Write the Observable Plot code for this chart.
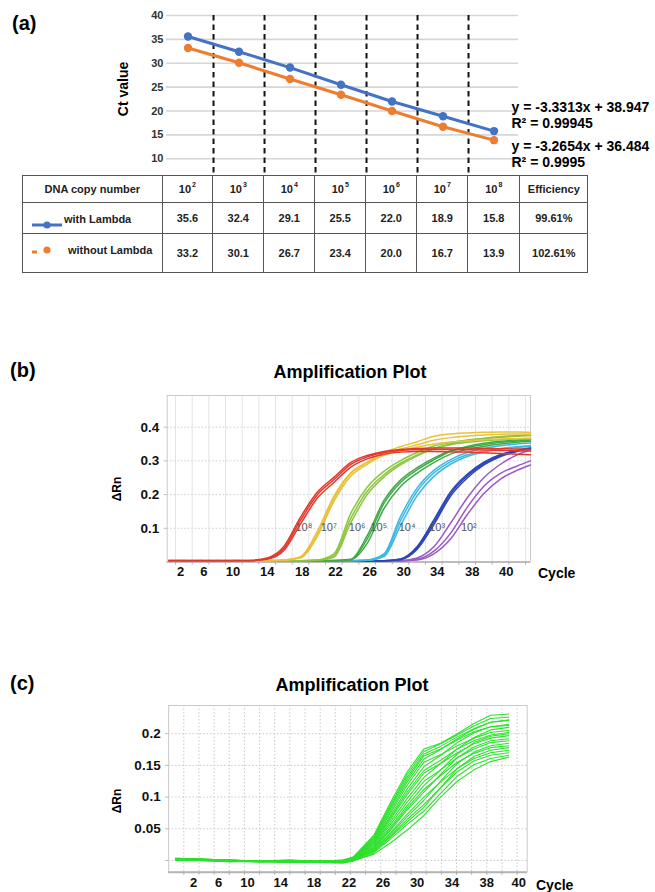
<!DOCTYPE html>
<html><head><meta charset="utf-8">
<script src="https://cdn.jsdelivr.net/npm/d3@7"></script>
<script src="https://cdn.jsdelivr.net/npm/@observablehq/plot@0.6"></script>
<style>
body{margin:0;background:#fff;}
#root{position:relative;width:655px;height:892px;overflow:hidden;font-family:Arial,"Liberation Sans",Helvetica,sans-serif;color:#000;}
table.ct{border-collapse:collapse;table-layout:fixed;font-weight:bold;font-size:11px;color:#222;}
table.ct td{border:1.5px solid #555;text-align:center;padding:0;vertical-align:middle;}
table.ct sup{font-size:7px;vertical-align:top;position:relative;top:-2px;margin-left:1px;}
</style></head><body><div id="root"></div>
<script>
// ---------- Panel (a) data ----------
const copyExponents = [2, 3, 4, 5, 6, 7, 8];
const seriesNames = ["with Lambda", "without Lambda"];
const ctWithLambda = [35.6, 32.4, 29.1, 25.5, 22.0, 18.9, 15.8];
const ctWithoutLambda = [33.2, 30.1, 26.7, 23.4, 20.0, 16.7, 13.9];
const efficiencies = ["99.61%", "102.61%"];
const equations = ["y = -3.3313x + 38.947", "R² = 0.99945", "y = -3.2654x + 36.484", "R² = 0.9995"];
const ctTicks = [10, 15, 20, 25, 30, 35, 40];
const seriesColors = ["#4472c4", "#ed7d31"];

// ---------- Panel (b) data ----------
const cyclesB = [0.2,2,4,6,8,10,12,14,16,18,20,22,24,26,28,30,32,34,36,38,40,42,43.6];
const rn1e8 = [
 [.004,.005,.004,.005,.004,.005,.012,.046,.133,.207,.251,.295,.316,.328,.334,.337,.338,.338,.338,.337,.336,.335,.334],
 [.005,.004,.004,.004,.005,.004,.010,.040,.124,.199,.244,.289,.312,.325,.331,.333,.334,.334,.333,.332,.331,.330,.329],
 [.004,.004,.005,.004,.004,.004,.008,.034,.113,.189,.236,.281,.306,.320,.326,.328,.328,.327,.326,.324,.322,.320,.318]];
const rn1e7 = [
 [.004,.004,.004,.003,.004,.004,.004,.006,.014,.082,.188,.262,.296,.325,.342,.357,.373,.380,.383,.385,.386,.386,.385],
 [.003,.004,.004,.004,.003,.004,.004,.005,.012,.075,.180,.254,.290,.318,.335,.348,.361,.369,.374,.377,.379,.380,.380],
 [.004,.003,.004,.004,.004,.003,.004,.006,.016,.090,.195,.264,.295,.317,.331,.341,.350,.356,.360,.363,.365,.366,.366]];
const rn1e6 = [
 [.004,.004,.003,.004,.004,.004,.004,.004,.004,.006,.024,.143,.222,.269,.301,.325,.344,.354,.362,.366,.370,.373,.375],
 [.003,.004,.004,.004,.003,.004,.004,.004,.004,.005,.018,.128,.210,.259,.293,.318,.337,.348,.355,.360,.363,.366,.367],
 [.004,.004,.004,.003,.004,.004,.003,.004,.004,.005,.014,.115,.200,.252,.288,.315,.336,.350,.360,.367,.372,.375,.377]];
const rn1e5 = [
 [.004,.003,.004,.004,.004,.003,.004,.004,.004,.004,.004,.007,.068,.173,.236,.274,.303,.328,.340,.348,.355,.359,.362],
 [.003,.004,.004,.003,.004,.004,.004,.003,.004,.004,.005,.008,.078,.182,.243,.280,.308,.330,.343,.352,.358,.362,.364],
 [.004,.004,.003,.004,.004,.004,.003,.004,.004,.004,.004,.006,.055,.158,.224,.264,.295,.320,.334,.343,.350,.355,.358]];
const rn1e4 = [
 [.004,.004,.004,.004,.003,.004,.004,.004,.004,.004,.004,.004,.005,.020,.123,.210,.264,.297,.318,.329,.337,.342,.345],
 [.003,.004,.004,.004,.004,.004,.003,.004,.004,.004,.004,.004,.006,.024,.135,.220,.272,.304,.325,.337,.345,.350,.353],
 [.004,.003,.004,.004,.004,.003,.004,.004,.004,.003,.004,.004,.005,.016,.108,.197,.254,.290,.313,.326,.335,.340,.343]];
const rn1e3 = [
 [.004,.004,.003,.004,.004,.004,.004,.004,.003,.004,.004,.004,.004,.004,.008,.042,.118,.202,.255,.292,.316,.330,.337],
 [.003,.004,.004,.004,.004,.003,.004,.004,.004,.004,.004,.003,.004,.004,.009,.046,.125,.208,.260,.296,.319,.332,.339],
 [.004,.004,.004,.003,.004,.004,.004,.003,.004,.004,.003,.004,.004,.004,.007,.038,.111,.195,.249,.288,.313,.328,.336]];
const rn1e2 = [
 [.004,.004,.004,.004,.003,.004,.004,.004,.004,.004,.004,.004,.004,.004,.004,.012,.045,.115,.190,.250,.290,.318,.333],
 [.003,.004,.004,.004,.004,.004,.003,.004,.004,.004,.004,.004,.003,.004,.004,.008,.032,.085,.162,.225,.263,.285,.300],
 [.004,.004,.003,.004,.004,.004,.004,.004,.003,.004,.004,.004,.004,.004,.004,.006,.024,.068,.140,.203,.246,.272,.288]];
const groupNamesB = ["10²","10³","10⁴","10⁵","10⁶","10⁷","10⁸"];
const groupColorsB = ["#9a58c6","#2b45b5","#3cb8e2","#3faa4a","#8cc63e","#e8c23a","#e4372c"];
const labelCyclesB = [36.2, 32.4, 28.8, 25.4, 22.8, 19.4, 16.4];
const labelLevelB = 0.102;
const rnTicksB = [0.1, 0.2, 0.3, 0.4];
const tickLabelsB = ["2","6","10","14","18","22","26","30","34","38","40"];
const tickPosB = [1.6, 4.4, 7.9, 12.0, 16.2, 20.2, 24.3, 28.4, 32.4, 36.6, 40.7];
const gridCyclesB = d3.range(1, 44, 2);

// ---------- Panel (c) data ----------
const cyclesC = [0.9,4,8,12,16,20,23,24.4,27.1,29.3,31.5,33.7,35.9,38.1,40.3,42.5,44.9];
const rnC = [
 [.003,.002,.001,-.001,.000,-.001,.000,.006,.040,.092,.140,.176,.185,.200,.216,.229,.231],
 [.002,.003,.000,.000,-.001,-.002,.001,.005,.038,.088,.136,.172,.184,.198,.212,.224,.226],
 [.001,.002,.001,-.002,-.001,.000,-.001,.005,.036,.085,.132,.168,.180,.195,.208,.218,.221],
 [.004,.002,-.001,.000,-.002,-.001,.000,.004,.035,.082,.128,.165,.176,.190,.203,.211,.213],
 [.002,.001,.000,-.001,.001,-.002,-.002,.004,.033,.078,.124,.160,.175,.192,.207,.218,.222],
 [.000,.002,.001,-.002,-.002,.000,-.003,.003,.031,.075,.119,.155,.167,.181,.193,.202,.205],
 [.003,.001,-.001,.000,-.001,-.003,-.001,.004,.030,.071,.113,.148,.166,.186,.201,.211,.215],
 [.001,.000,.000,-.001,-.002,-.001,-.002,.003,.028,.068,.108,.142,.158,.176,.189,.198,.202],
 [.002,.002,.000,-.002,.000,-.002,-.003,.002,.026,.065,.104,.138,.153,.170,.184,.193,.197],
 [.000,.001,-.001,-.001,-.002,-.001,-.001,.003,.025,.061,.098,.131,.153,.176,.194,.206,.210],
 [.003,.002,.000,.000,-.001,-.002,-.002,.002,.023,.057,.092,.125,.143,.162,.176,.186,.189],
 [.001,.000,-.002,-.001,-.002,-.003,-.002,.002,.021,.053,.087,.118,.143,.168,.186,.196,.200],
 [.002,.001,.000,-.002,-.001,-.001,-.003,.001,.020,.050,.083,.112,.134,.155,.169,.178,.181],
 [.000,.002,-.001,-.001,-.003,-.002,-.001,.002,.019,.048,.080,.108,.136,.162,.179,.189,.192],
 [.003,.001,.000,-.002,-.002,-.003,-.004,.000,.017,.044,.073,.100,.124,.145,.161,.170,.174],
 [.001,.000,-.001,.000,-.001,-.002,-.002,.001,.016,.042,.069,.095,.125,.153,.171,.181,.185],
 [.002,.002,-.001,-.002,-.002,-.001,-.003,.000,.015,.039,.065,.088,.115,.140,.157,.166,.170],
 [.000,.001,.000,-.001,-.003,-.002,-.002,.001,.014,.037,.061,.084,.115,.145,.164,.174,.178],
 [.002,.000,-.002,-.002,-.001,-.003,-.004,-.001,.012,.034,.057,.078,.106,.133,.151,.161,.166],
 [.001,.002,.000,-.001,-.002,-.002,-.003,.000,.010,.028,.048,.071,.100,.125,.143,.156,.163]];
const rnTicksC = [0, 0.05, 0.1, 0.15, 0.2];
const tickLabelsC = ["2","6","10","14","18","22","26","30","34","38","40"];
const tickPosC = [3.3, 6.6, 10.4, 14.8, 19.2, 23.8, 28.3, 32.8, 37.4, 42.0, 46.2];
const gridCyclesC = d3.range(2, 47, 2);

// ---------- helpers ----------
const FONT = 'Arial, "Liberation Sans", Helvetica, sans-serif';
const root = document.getElementById("root");
function place(node, left, top) {
  node.style.position = "absolute"; node.style.left = left + "px"; node.style.top = top + "px";
  root.appendChild(node); return node;
}
function addText(text, left, top, css) {
  const d = document.createElement("div"); d.textContent = text;
  d.style.cssText = "white-space:nowrap;" + css; return place(d, left, top);
}
function addRotated(text, cx, cy, css) {
  const d = document.createElement("div"); d.textContent = text;
  d.style.cssText = "white-space:nowrap;width:100px;text-align:center;line-height:16px;transform:rotate(-90deg);" + css;
  return place(d, cx - 50, cy - 8);
}

// ---------- Panel (a) chart ----------
const ptsA = [];
seriesNames.forEach((s, si) => {
  const vals = si === 0 ? ctWithLambda : ctWithoutLambda;
  copyExponents.forEach((e, i) => ptsA.push({exp: e, ct: vals[i], series: s}));
});
const boundariesA = copyExponents.slice(0, -1).map(e => e + 0.5);
const chartA = Plot.plot({
  width: 655, height: 176, marginLeft: 166, marginRight: 137, marginTop: 15, marginBottom: 1,
  style: {fontFamily: FONT, background: "transparent", overflow: "visible"},
  x: {domain: [1.578, 8.48], axis: null},
  y: {domain: [6.5, 40], axis: null},
  color: {domain: seriesNames, range: seriesColors},
  marks: [
    Plot.gridY(ctTicks, {stroke: "#d6d6d6", strokeOpacity: 1, strokeWidth: 1.6}),
    Plot.axisY(ctTicks, {label: null, tickSize: 0, tickPadding: 3, fontSize: 11, fontWeight: "bold", fill: "#333"}),
    Plot.ruleX(boundariesA, {stroke: "#111", strokeWidth: 2, strokeDasharray: "5.5,4"}),
    Plot.line(ptsA, {x: "exp", y: "ct", z: "series", stroke: "series", strokeWidth: 3}),
    Plot.dot(ptsA, {x: "exp", y: "ct", fill: "series", r: 4.2})
  ]
});
place(chartA, 0, 0);

// ---------- Panel (a) table ----------
const colWidths = [139.6, 50.7, 51, 51, 51, 51, 51, 51.9, 68.3];
const rowHeights = [27, 30.5, 39];
const tbl = document.createElement("table");
tbl.className = "ct";
tbl.style.width = d3.sum(colWidths) + "px";
const cg = document.createElement("colgroup");
colWidths.forEach(w => { const c = document.createElement("col"); c.style.width = w + "px"; cg.appendChild(c); });
tbl.appendChild(cg);
function row(h) { const tr = document.createElement("tr"); tr.style.height = h + "px"; tbl.appendChild(tr); return tr; }
function cell(tr, html) { const td = document.createElement("td"); td.innerHTML = html; tr.appendChild(td); return td; }
const hr = row(rowHeights[0]);
cell(hr, "DNA copy number");
copyExponents.forEach(e => cell(hr, "10<sup>" + e + "</sup>"));
cell(hr, "Efficiency");
[ctWithLambda, ctWithoutLambda].forEach((vals, si) => {
  const tr = row(rowHeights[si + 1]);
  const first = cell(tr, "");
  first.style.position = "relative";
  const color = seriesColors[si];
  let icon, labelLeft, labelTop;
  if (si === 0) {
    icon = `<svg width="40" height="12" style="position:absolute;left:9px;top:16px"><line x1="0" y1="6" x2="30" y2="6" stroke="${color}" stroke-width="3"/><circle cx="15" cy="6" r="3.6" fill="${color}"/></svg>`;
    labelLeft = 41; labelTop = 9;
  } else {
    icon = `<svg width="40" height="12" style="position:absolute;left:9px;top:10px"><line x1="0" y1="8" x2="5" y2="8" stroke="${color}" stroke-width="3"/><circle cx="15" cy="6" r="3.6" fill="${color}"/></svg>`;
    labelLeft = 45; labelTop = 9;
  }
  first.innerHTML = icon + `<span style="position:absolute;left:${labelLeft}px;top:${labelTop}px;line-height:14px;white-space:nowrap">${seriesNames[si]}</span>`;
  vals.forEach(v => cell(tr, v.toFixed(1)));
  cell(tr, efficiencies[si]);
});
place(tbl, 22, 175);

// annotations (a)
addText("(a)", 12, 12, "font-size:20px;font-weight:bold;line-height:22px;");
addRotated("Ct value", 122.5, 89, "font-size:14px;font-weight:bold;");
const eqTops = [99, 115, 138, 154];
equations.forEach((t, i) => addText(t, 511.5, eqTops[i], "font-size:14px;font-weight:bold;line-height:16px;"));

// ---------- Panel (b) chart ----------
const groupsB = [rn1e2, rn1e3, rn1e4, rn1e5, rn1e6, rn1e7, rn1e8];
const dataB = [];
groupsB.forEach((reps, gi) => reps.forEach((vals, ri) => vals.forEach((v, i) =>
  dataB.push({cycle: cyclesB[i], rn: v, group: groupNamesB[gi], id: gi + "-" + ri}))));
const tickMapB = new Map(tickPosB.map((p, i) => [p, tickLabelsB[i]]));
const chartB = Plot.plot({
  width: 655, height: 240, marginLeft: 166.7, marginRight: 125, marginTop: 45, marginBottom: 28.5,
  style: {fontFamily: FONT, background: "transparent", overflow: "visible"},
  x: {domain: [0, 43.6], axis: null},
  y: {domain: [0, 0.494], axis: null},
  color: {domain: groupNamesB, range: groupColorsB},
  marks: [
    Plot.gridX(gridCyclesB, {stroke: "#e4e4e4", strokeOpacity: 1}),
    Plot.gridY(rnTicksB, {stroke: "#cfcfcf", strokeOpacity: 1, strokeDasharray: "1.5,2"}),
    Plot.frame({stroke: "#cacaca"}),
    Plot.ruleY([0], {stroke: "#bdbdbd", strokeWidth: 2}),
    Plot.axisX(gridCyclesB, {label: null, tickSize: 3, stroke: "#aaa", tickFormat: () => ""}),
    Plot.axisX(tickPosB, {label: null, tickSize: 0, tickPadding: 5, tickFormat: d => tickMapB.get(d), fontSize: 13, fontWeight: "bold", fill: "#111"}),
    Plot.axisY(rnTicksB, {label: null, tickSize: 3, stroke: "#bbb", tickPadding: 5, tickFormat: d => d.toFixed(1), fontSize: 13.5, fontWeight: "bold", fill: "#111"}),
    Plot.line(dataB, {x: "cycle", y: "rn", z: "id", stroke: "group", strokeWidth: 1.5, curve: "monotone-x"}),
    Plot.text(groupNamesB, {x: (d, i) => labelCyclesB[i], y: () => labelLevelB, text: d => d, fontSize: 11, fill: "#555"})
  ]
});
place(chartB, 0, 350);
addText("(b)", 10, 359, "font-size:20px;font-weight:bold;line-height:22px;");
addText("Amplification Plot", 200, 362, "width:300px;text-align:center;font-size:18px;font-weight:bold;line-height:20px;");
addRotated("ΔRn", 117, 489, "font-size:12px;font-weight:bold;");
addText("Cycle", 538, 563, "font-size:14px;font-weight:bold;line-height:20px;");

// ---------- Panel (c) chart ----------
const dataC = [];
rnC.forEach((vals, ri) => vals.forEach((v, i) => dataC.push({cycle: cyclesC[i], rn: v, id: ri})));
const tickMapC = new Map(tickPosC.map((p, i) => [p, tickLabelsC[i]]));
const chartC = Plot.plot({
  width: 655, height: 232, marginLeft: 168.15, marginRight: 128.3, marginTop: 45, marginBottom: 20.3,
  style: {fontFamily: FONT, background: "transparent", overflow: "visible"},
  x: {domain: [0, 47.33], axis: null},
  y: {domain: [-0.0185, 0.2445], axis: null},
  marks: [
    Plot.gridX(gridCyclesC, {stroke: "#c8c8c8", strokeOpacity: 1, strokeDasharray: "1.5,2"}),
    Plot.gridY(rnTicksC, {stroke: "#c8c8c8", strokeOpacity: 1, strokeDasharray: "1.5,2"}),
    Plot.frame({stroke: "#cacaca"}),
    Plot.ruleY([-0.0185], {stroke: "#b5b5b5", strokeWidth: 2}),
    Plot.axisX(gridCyclesC, {label: null, tickSize: 3, stroke: "#aaa", tickFormat: () => ""}),
    Plot.axisX(tickPosC, {label: null, tickSize: 0, tickPadding: 6, tickFormat: d => tickMapC.get(d), fontSize: 13, fontWeight: "bold", fill: "#111"}),
    Plot.axisY(rnTicksC, {label: null, tickSize: 3, stroke: "#bbb", tickPadding: 5, tickFormat: d => d === 0 ? "" : String(d), fontSize: 13.5, fontWeight: "bold", fill: "#111"}),
    Plot.line(dataC, {x: "cycle", y: "rn", z: "id", stroke: "#2de02d", strokeWidth: 1.1})
  ]
});
place(chartC, 0, 660);
addText("(c)", 10, 672, "font-size:20px;font-weight:bold;line-height:22px;");
addText("Amplification Plot", 202, 675, "width:300px;text-align:center;font-size:18px;font-weight:bold;line-height:20px;");
addRotated("ΔRn", 117, 801, "font-size:12px;font-weight:bold;");
addText("Cycle", 536, 875, "font-size:14px;font-weight:bold;line-height:20px;");
</script></body></html>
